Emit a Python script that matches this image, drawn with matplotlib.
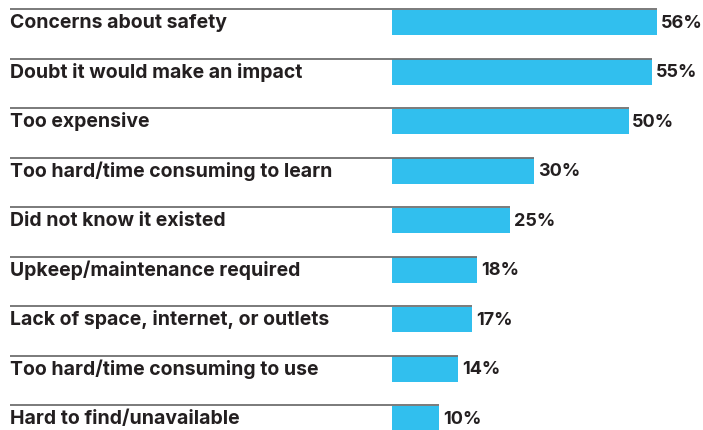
import matplotlib.pyplot as plt

# survey data, top to bottom
reasons = [
    "Concerns about safety",
    "Doubt it would make an impact",
    "Too expensive",
    "Too hard/time consuming to learn",
    "Did not know it existed",
    "Upkeep/maintenance required",
    "Lack of space, internet, or outlets",
    "Too hard/time consuming to use",
    "Hard to find/unavailable",
]
percents = [56, 55, 50, 30, 25, 18, 17, 14, 10]

bar_color = "#31bfee"
text_color = "#231f20"

plt.rcParams['font.family'] = ['Inter', 'DejaVu Sans']

fig = plt.figure(figsize=(7.03, 4.30), dpi=100)
ax = fig.add_axes([0, 0, 1, 1])

px_per_pct = 4.73
x0 = 392
ax.set_xlim(-x0 / px_per_pct, (703 - x0) / px_per_pct)
ax.set_ylim((430 - 22.5) / 49.5, -22.5 / 49.5)
left = -(x0 - 10) / px_per_pct

rows = list(range(len(reasons)))
ax.barh(rows, percents, height=0.51, color=bar_color, zorder=1)

for i, (lab, p) in enumerate(zip(reasons, percents)):
    ax.hlines(i - 0.265, left, p, color="#707070", lw=1.3, zorder=2)
    ax.text(left, i, lab, ha="left", va="center", fontsize=14,
            fontweight="bold", color=text_color)
    ax.text(p + 0.8, i + 0.02, f"{p}%", ha="left", va="center", fontsize=13,
            fontweight="bold", color=text_color)

ax.axis("off")
fig.savefig("out.png", dpi=100)
